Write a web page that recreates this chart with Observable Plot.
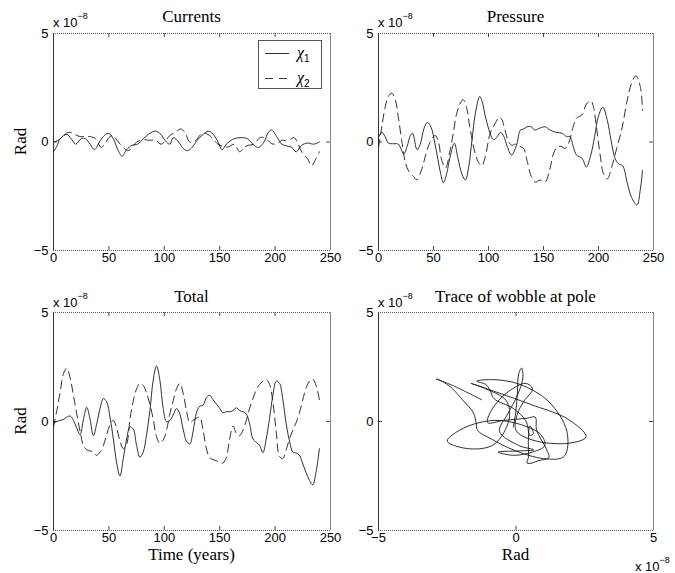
<!DOCTYPE html>
<html>
<head>
<meta charset="utf-8">
<script src="https://cdn.jsdelivr.net/npm/d3@7"></script>
<script src="https://cdn.jsdelivr.net/npm/@observablehq/plot@0.6"></script>
<style>
  html, body { margin: 0; padding: 0; background: #fff; }
  #figure { position: relative; width: 675px; height: 573px; overflow: hidden; background: #fff; }
  #figure svg { position: absolute; overflow: visible; }
</style>
</head>
<body>
<div id="figure"></div>
<script>
// Polar-motion excitation functions chi1 / chi2, in units of 1e-8 rad.

// Excitation by ocean currents: [year, value]
const currentsChi1 = [[0,-0.45],[3,-0.2],[6,0.15],[12,0.35],[16,0.15],[20,-0.1],[25,0.15],[29,0.15],[33,-0.1],[37,-0.35],[42,0.05],[46,0.3],[50,0.4],[54,0.15],[58,-0.35],[62,-0.65],[66,-0.35],[71,-0.15],[76,-0.1],[81,0.15],[87,0.4],[92,0.5],[97,0.35],[101,0.05],[105,-0.1],[108,0.2],[113,0.0],[117,-0.3],[121,-0.4],[125,-0.25],[130,0.1],[134,0.3],[140,0.5],[145,0.3],[149,-0.05],[152,-0.35],[157,-0.05],[163,0.15],[169,0.2],[175,0.15],[181,-0.15],[185,-0.25],[190,0.0],[194,0.45],[197,0.55],[202,0.2],[206,-0.1],[212,-0.2],[215,-0.25],[219,-0.45],[224,-0.15],[229,-0.05],[235,-0.1],[240,0]];
const currentsChi2 = [[0,0],[5,0.1],[9,0.3],[14,0.45],[19,0.35],[24,0.25],[28,0.25],[33,0.25],[38,0.15],[43,-0.25],[46,-0.1],[51,0.25],[54,0.3],[57,0.1],[62,-0.2],[67,-0.4],[71,-0.25],[75,0],[81,0.1],[87,0.08],[92,0.08],[97,-0.1],[101,0.05],[105,0.3],[110,0.45],[115,0.6],[119,0.4],[123,0.0],[128,0.05],[133,0.35],[137,0.4],[142,0.25],[148,-0.08],[154,-0.22],[158,-0.22],[163,-0.1],[168,-0.45],[172,-0.25],[176,-0.15],[181,-0.1],[185,0.15],[188,0.22],[193,0.1],[197,-0.08],[202,-0.08],[206,0.08],[211,0.05],[217,0.2],[220,0.0],[224,-0.45],[229,-0.75],[233,-1.1],[236,-0.85],[240,-0.45]];

// Excitation by bottom pressure: [year, value]
const pressureChi1 = [[0,0.2],[3,0.45],[6,0.25],[9,-0.05],[14,-0.08],[18,-0.1],[23,-0.55],[26,-0.2],[29,0.3],[31,0.4],[35,-0.35],[38,-0.1],[41.5,0.65],[44.5,0.9],[48,0.65],[51,0.0],[54,-0.8],[56.5,-1.45],[59,-1.88],[62,-1.45],[65,-0.7],[69,-0.05],[72,-0.7],[76,-1.5],[79,-1.75],[82,-1.15],[85,0.1],[88,1.3],[92,2.1],[94,1.9],[97.5,1.1],[101.5,0.4],[104.5,0.1],[108,0.25],[111,0.45],[114,0.25],[117,-0.2],[121,-0.6],[125.5,-0.15],[129,0.55],[132,0.6],[135,0.7],[139,0.7],[142,0.55],[147,0.65],[151.5,0.7],[156,0.55],[161,0.45],[167,0.4],[171,0.25],[174,0.25],[177,-0.2],[180,-0.6],[185,-0.75],[189,-1.15],[193,-0.6],[196.5,0.25],[200,1.2],[204,1.6],[208,1.0],[211.5,0.05],[215,-0.75],[218,-1.0],[222,-1.1],[226,-1.85],[230,-2.55],[235,-2.9],[238,-2.2],[240,-1.3]];
const pressureChi2 = [[0,-0.25],[3,0.7],[6,1.6],[9,2.1],[12,2.25],[15,2.0],[18,1.15],[21,0.1],[24,-0.85],[27,-1.3],[32,-1.6],[35,-1.75],[39,-1.3],[44,-0.4],[47,0.0],[51.5,0.3],[54.5,0.0],[57.5,-0.85],[61,-1.2],[65,-0.4],[68,0.4],[71,1.3],[75,1.85],[77,1.95],[80,1.6],[83,0.7],[88,-0.55],[91,-0.95],[94,-1.1],[97,-0.7],[101.5,0.4],[106,0.85],[110,1.15],[112,1.05],[115,0.55],[118,0.05],[121,-0.15],[124.5,-0.1],[128.5,-0.2],[132,-0.3],[135,-0.85],[139,-1.6],[142.5,-1.85],[147,-1.75],[151.5,-1.85],[155.5,-1.3],[159,-0.55],[162,-0.25],[166,-0.2],[169.5,-0.3],[172.5,-0.1],[177,0.7],[180,1.1],[185,1.25],[189,1.75],[193,1.9],[195,1.7],[198.5,0.55],[201.5,-0.6],[204.5,-1.45],[208,-1.7],[212,-1.15],[216.5,-0.3],[221,0.55],[226,1.9],[230,2.7],[234,3.05],[238,2.55],[240,1.45]];

// Total excitation, sampled every 3 years (shared by the wobble trace)
const totalYears = d3.range(0, 241, 3);
const totalChi1 = [-0.1,0.0,0.05,0.1,0.2,0.25,0.05,-0.3,-0.6,0.1,
  0.65,0.1,-0.65,-0.1,0.6,1.05,0.9,0.2,-0.8,-1.9,
  -2.5,-1.7,-0.8,-0.25,-0.35,-1.1,-1.64,-1.4,-0.6,0.5,
  1.9,2.55,1.9,0.6,0.0,0.05,0.3,0.6,0.35,-0.35,
  -0.9,-1.03,-0.45,0.4,0.7,0.75,1.1,1.2,1.0,0.8,
  0.6,0.4,0.45,0.45,0.5,0.63,0.5,0.45,0.35,-0.1,
  -0.8,-0.95,-1.1,-1.43,-0.8,0.15,1.2,1.85,1.75,1.0,
  -0.1,-0.9,-1.4,-1.45,-1.55,-1.95,-2.35,-2.7,-2.9,-2.3,
  -1.25];
const totalChi2 = [-0.25,0.5,1.35,2.2,2.45,2.0,1.2,0.35,-0.45,-1.1,
  -1.3,-1.35,-1.4,-1.55,-1.4,-1.1,-0.6,-0.15,0.05,-0.3,
  -0.9,-1.25,-1.05,0.1,0.95,1.5,1.75,1.65,1.3,0.8,
  0.1,-0.7,-1.0,-0.85,-0.4,0.35,0.95,1.5,1.75,1.3,
  0.5,-0.05,0.05,0.15,0.2,-0.4,-1.25,-1.65,-1.75,-1.8,
  -1.9,-1.9,-1.65,-0.8,-0.2,-0.55,-0.65,-0.4,0.05,0.6,
  1.05,1.45,1.7,1.85,1.92,1.7,0.9,-0.45,-1.6,-1.7,
  -1.3,-0.8,-0.4,-0.05,0.4,1.0,1.55,1.85,1.95,1.65,
  1.0];

const timeTicks = [0, 50, 100, 150, 200, 250];
const radTicks = [-5, 0, 5];
const legendLabels = ["1", "2"];

const totalRows = totalYears.map((t, i) => ({t, chi1: totalChi1[i], chi2: totalChi2[i]}));

const sans = "'Liberation Sans', Arial, Helvetica, sans-serif";
const serif = "'Liberation Serif', 'Times New Roman', Times, serif";
const ink = "#1a1a1a";
const dash = "8,5";
const labelSize = "17px";

const figure = document.getElementById("figure");

// Box around the axes with short inward ticks on all four sides
function boxMarks(xDomain, innerTicks, innerW, innerH) {
  const kx = (xDomain[1] - xDomain[0]) / innerW;
  const ky = 10 / innerH;
  const len = 4;
  const tick = {stroke: "#333", strokeWidth: 0.9};
  return [
    Plot.ruleX(innerTicks, {y1: -5, y2: -5 + len * ky, ...tick}),
    Plot.ruleX(innerTicks, {y1: 5, y2: 5 - len * ky, ...tick}),
    Plot.ruleY([0], {x1: xDomain[0], x2: xDomain[0] + len * kx, ...tick}),
    Plot.ruleY([0], {x1: xDomain[1], x2: xDomain[1] - len * kx, ...tick}),
    Plot.ruleY([5], {stroke: "#555", strokeWidth: 1, strokeDasharray: "1,1"}),
    Plot.ruleY([-5], {stroke: "#555", strokeWidth: 1, strokeDasharray: "1,1"}),
    Plot.ruleX([xDomain[0]], {stroke: "#333", strokeWidth: 1}),
    Plot.ruleX([xDomain[1]], {stroke: "#888", strokeWidth: 1})
  ];
}

function panel({left, top, width, height, margins, xDomain, xTicks, innerTicks, marks}) {
  const [mt, mr, mb, ml] = margins;
  const innerW = width - ml - mr, innerH = height - mt - mb;
  const svg = Plot.plot({
    width, height,
    marginTop: mt, marginRight: mr, marginBottom: mb, marginLeft: ml,
    style: {background: "transparent", fontFamily: sans, fontSize: "13px", color: "#000", overflow: "visible"},
    x: {domain: xDomain, ticks: xTicks, tickSize: 0, tickPadding: 2, label: null},
    y: {domain: [-5, 5], ticks: radTicks, tickSize: 0, tickPadding: 5, label: null},
    marks: [...boxMarks(xDomain, innerTicks, innerW, innerH), ...marks]
  });
  svg.style.left = left + "px";
  svg.style.top = top + "px";
  figure.appendChild(svg);
  return {svg: d3.select(svg), ml, mt, innerW, innerH, width, height};
}

// "x 10^-8" multiplier label
function exponentLabel(g, x, y) {
  const t = g.append("text")
    .attr("x", x).attr("y", y).attr("text-anchor", "start")
    .style("font-family", sans).style("font-size", "13px").attr("fill", "#000");
  t.append("tspan").text("x 10");
  t.append("tspan").attr("dy", -8).style("font-size", "9px").text("\u22128");
}

function decorate(p, {title, ylabel, xlabel, bottomExponent}) {
  const g = p.svg;
  g.append("text")
    .attr("x", p.ml + p.innerW / 2).attr("y", 22)
    .attr("text-anchor", "middle")
    .style("font-family", serif).style("font-size", labelSize).attr("fill", "#000")
    .text(title);
  exponentLabel(g, p.ml, 27);
  if (ylabel) {
    g.append("text")
      .attr("transform", `translate(26,${p.mt + p.innerH / 2}) rotate(-90)`)
      .attr("text-anchor", "middle")
      .style("font-family", serif).style("font-size", labelSize).attr("fill", "#000")
      .text(ylabel);
  }
  if (xlabel) {
    g.append("text")
      .attr("x", p.ml + p.innerW / 2).attr("y", p.mt + p.innerH + 30)
      .attr("text-anchor", "middle")
      .style("font-family", serif).style("font-size", labelSize).attr("fill", "#000")
      .text(xlabel);
  }
  if (bottomExponent) exponentLabel(g, p.ml + p.innerW - 18, p.mt + p.innerH + 41);
}

const solid = (data, x, y) => Plot.line(data, {x, y, curve: "catmull-rom", stroke: ink, strokeWidth: 0.9});
const dashed = (data, x, y) => Plot.line(data, {x, y, curve: "catmull-rom", stroke: ink, strokeWidth: 0.9, strokeDasharray: dash});
const yr = d => d[0], val = d => d[1];

const innerTime = [50, 100, 150, 200];

// Currents
const pCur = panel({
  left: 0, top: 0, width: 337, height: 280, margins: [33, 7, 30, 53],
  xDomain: [0, 250], xTicks: timeTicks, innerTicks: innerTime,
  marks: [solid(currentsChi1, yr, val), dashed(currentsChi2, yr, val)]
});
decorate(pCur, {title: "Currents", ylabel: "Rad"});

// Legend inside the Currents axes
{
  const g = pCur.svg.append("g").attr("text-anchor", "start");
  g.append("rect").attr("x", 258.5).attr("y", 40.5).attr("width", 63).attr("height", 48)
    .attr("fill", "#fff").attr("stroke", "#555").attr("stroke-width", 1);
  legendLabels.forEach((lab, i) => {
    const y = 53.5 + i * 25;
    g.append("line").attr("x1", 265).attr("x2", 289).attr("y1", y).attr("y2", y)
      .attr("stroke", ink).attr("stroke-width", 0.9)
      .attr("stroke-dasharray", i === 0 ? null : "8,6");
    const t = g.append("text").attr("x", 297).attr("y", y + 4).attr("text-anchor", "start").attr("fill", "#000");
    t.append("tspan").style("font-family", serif).style("font-style", "italic").style("font-size", "16px").text("\u03c7");
    t.append("tspan").attr("dy", 4).style("font-family", sans).style("font-size", "10px").text(lab);
  });
}

// Pressure
const pPre = panel({
  left: 337, top: 0, width: 338, height: 280, margins: [33, 22, 30, 41],
  xDomain: [0, 250], xTicks: timeTicks, innerTicks: innerTime,
  marks: [solid(pressureChi1, yr, val), dashed(pressureChi2, yr, val)]
});
decorate(pPre, {title: "Pressure"});

// Total
const pTot = panel({
  left: 0, top: 280, width: 337, height: 293, margins: [32, 7, 43, 53],
  xDomain: [0, 250], xTicks: timeTicks, innerTicks: innerTime,
  marks: [solid(totalRows, "t", "chi1"), dashed(totalRows, "t", "chi2")]
});
decorate(pTot, {title: "Total", ylabel: "Rad", xlabel: "Time (years)"});

// Trace of the pole: chi1 against chi2
const pTr = panel({
  left: 337, top: 280, width: 338, height: 293, margins: [32, 22, 43, 41],
  xDomain: [-5, 5], xTicks: radTicks, innerTicks: [0],
  marks: [Plot.line(totalRows, {x: "chi1", y: "chi2", curve: "catmull-rom", stroke: ink, strokeWidth: 0.9})]
});
decorate(pTr, {title: "Trace of wobble at pole", xlabel: "Rad", bottomExponent: true});
</script>
</body>
</html>
